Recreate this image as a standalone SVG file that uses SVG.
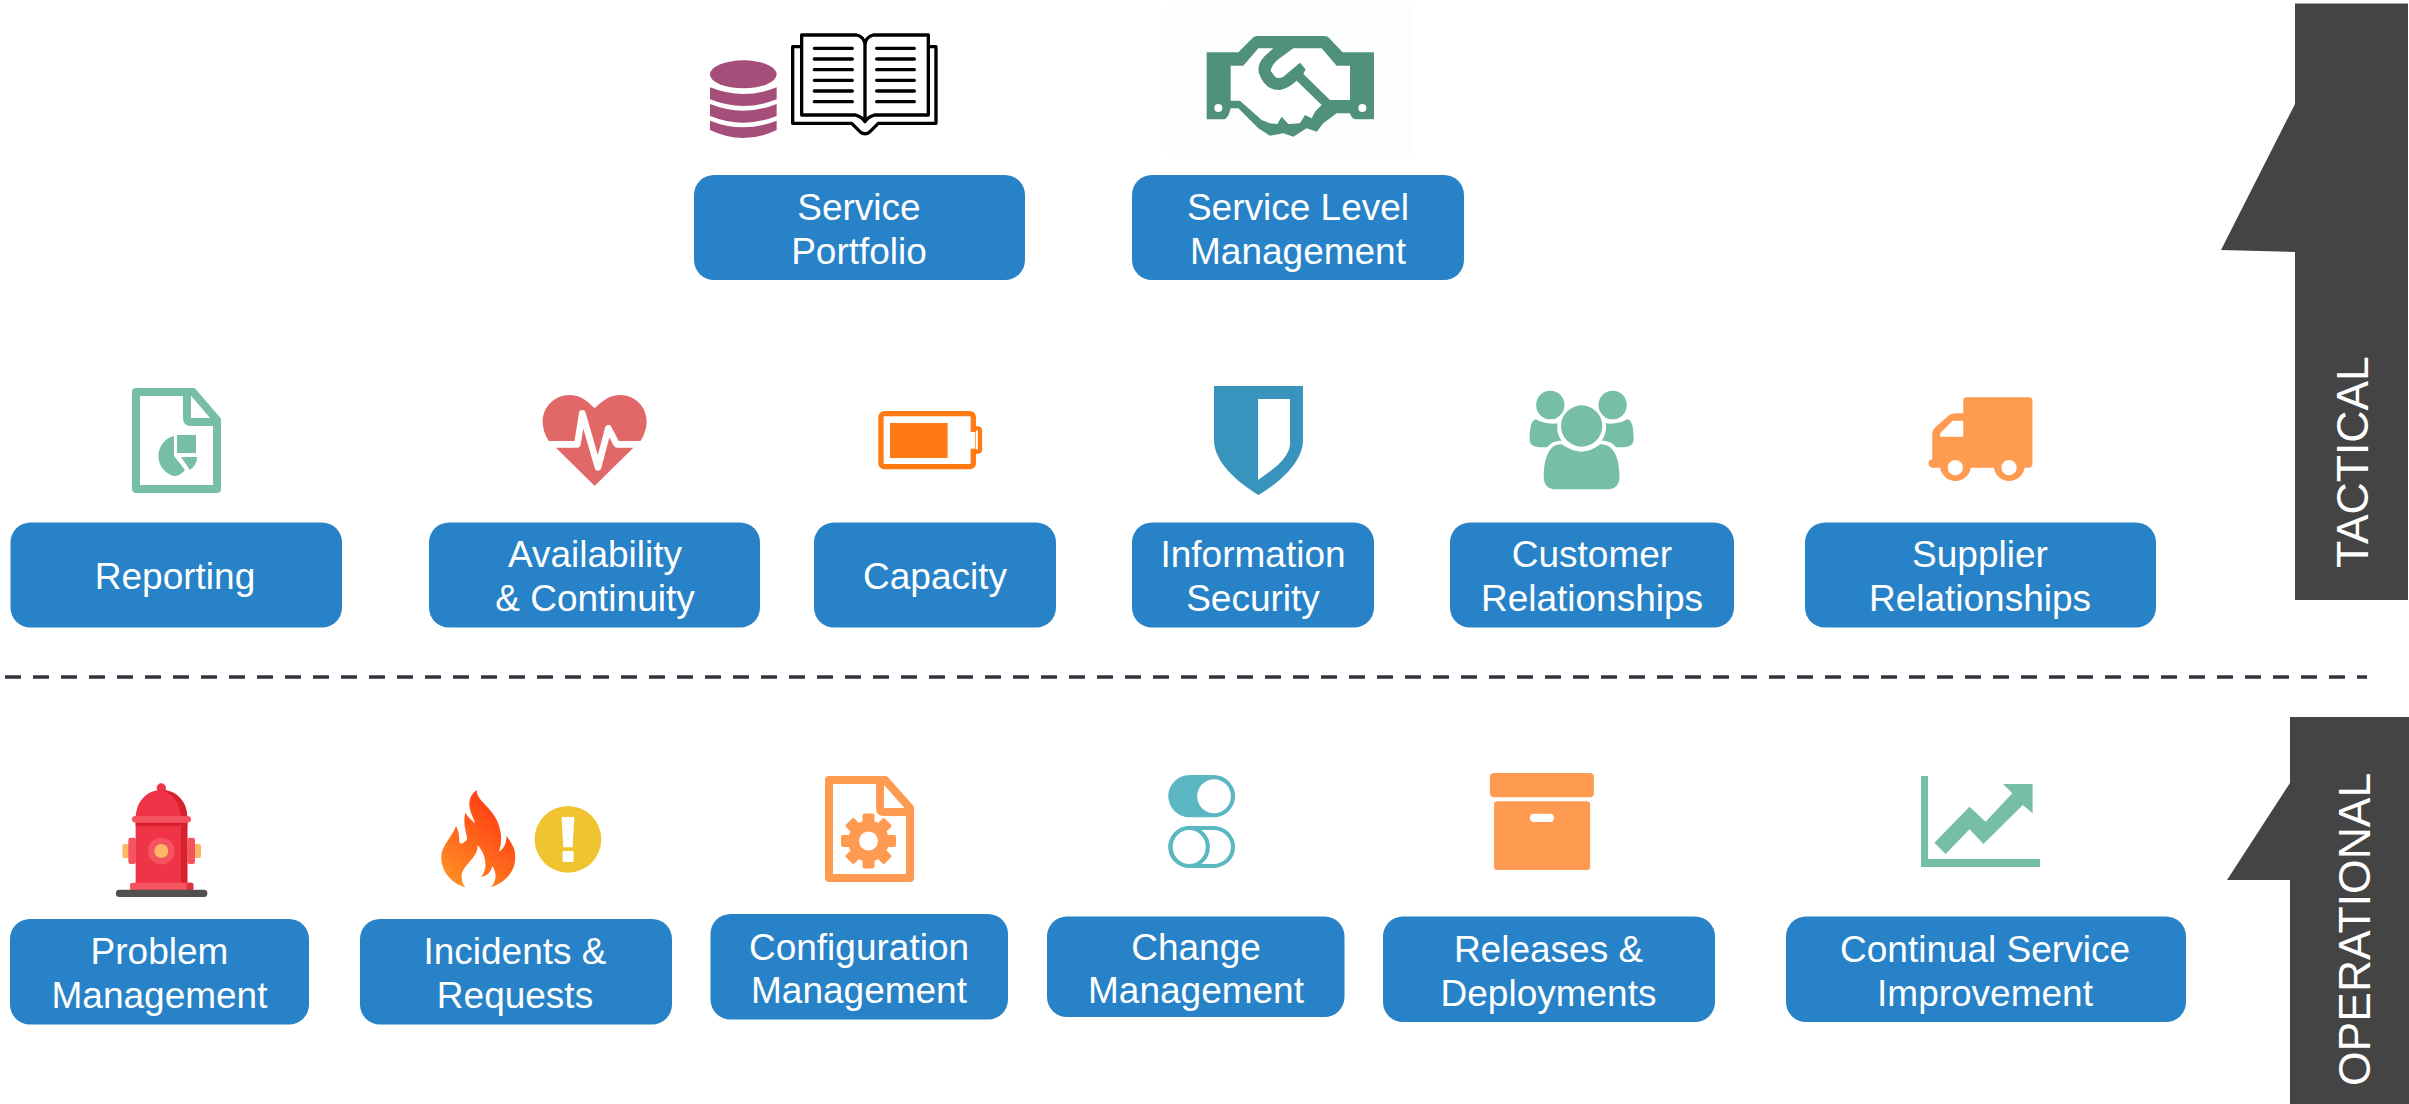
<svg xmlns="http://www.w3.org/2000/svg" width="2409" height="1104" viewBox="0 0 2409 1104">
<style>
text{font-family:"Liberation Sans",Arial,sans-serif;fill:#fff}
.b{fill:#2782c7}
.t{font-size:37px;text-anchor:middle}
.s{font-size:44.500px}
.tab{fill:#444}
.g{fill:#76bea8}
.o{fill:#ff9b50}
.w{fill:#fff}
.doc{fill:none;stroke-width:8;stroke-linejoin:round}
</style>
<defs>
<linearGradient id="fl" x1="0.15" y1="0.95" x2="0.7" y2="0.1"><stop offset="0" stop-color="#ff8f26"/><stop offset="1" stop-color="#ff3c12"/></linearGradient>
</defs>
<rect width="2409" height="1104" fill="#fff"/>

<g id="divider"><line x1="5" y1="677" x2="2367" y2="677" stroke="#333340" stroke-width="3.5" stroke-dasharray="16 12"/></g>

<g id="tab-tactical">
<path class="tab" d="M2295,3.500H2408V600H2295V252L2221,250L2295,104Z"/>
<text class="s" transform="translate(2368,568) rotate(-90)">TACTICAL</text>
</g>
<g id="tab-operational">
<path class="tab" d="M2290,717H2409V1104H2290V880H2227L2290,783Z"/>
<text class="s" transform="translate(2370,1086) rotate(-90)">OPERATIONAL</text>
</g>

<g id="service-portfolio">
<g transform="translate(700,20) scale(.3333)">
<g fill="#a54e7a">
<ellipse cx="130" cy="163" rx="100" ry="42"/>
<path d="M30,202Q130,242 230,202V238Q130,278 30,238Z"/>
<path d="M30,252Q130,292 230,252V288Q130,328 30,288Z"/>
<path d="M30,302Q130,342 230,302V330Q130,378 30,330Z"/>
</g>
<g fill="none" stroke="#000" stroke-width="10" stroke-linejoin="round">
<path d="M305,45H470Q490,50 495,70Q500,50 520,45H685V285H525Q505,290 495,305Q485,290 465,285H305Z"/>
<path d="M495,70V305"/>
<path d="M305,80H278V310H455L480,335Q495,348 510,335L535,310H708V80H685"/>
<path stroke-linecap="round" d="M343,85H457M530,85H643M343,117H457M530,117H643M343,149H457M530,149H643M343,181H457M530,181H643M343,213H457M530,213H643M343,245H457M530,245H643"/>
</g>
</g>
<rect class="b" x="694" y="175" width="331" height="105" rx="20"/>
<text class="t" x="859" y="220">Service</text>
<text class="t" x="859" y="264">Portfolio</text>
</g>

<g id="service-level-management">
<rect x="1167" y="5" width="245" height="152" fill="#fcfdfd"/>
<g transform="translate(1190,20) scale(.3333)">
<path fill="#4f9279" d="M50,97H145L190,52Q195,48 205,48H400Q410,48 415,52L458,97H552V298H500Q485,298 480,280H440L400,310L380,335L350,325L310,350L280,340L240,347L205,325L145,265H122Q115,298 100,298H50Z"/>
<path class="w" d="M122,137H160L205,85H250L222,110Q200,135 207,160Q225,212 270,210Q295,205 320,182L395,255L375,275L365,295L345,285L330,310L295,312L275,290L262,312L240,310L215,300L150,242H122Z"/>
<path class="w" d="M265,85H395L440,137H480V240H420L340,162L347,148L330,128L280,170Q265,178 255,170L242,152Q245,135 265,118L310,85Z"/>
<circle class="w" cx="85" cy="264" r="12"/><circle class="w" cx="517" cy="264" r="12"/>
</g>
<rect class="b" x="1132" y="175" width="332" height="105" rx="20"/>
<text class="t" x="1298" y="220">Service Level</text>
<text class="t" x="1298" y="264">Management</text>
</g>

<g id="reporting">
<path class="doc" stroke="#76bea8" d="M136,392H193L217,420V489H136ZM187,392V418Q187,422 191,422H217"/>
<path class="g" d="M174,436A20,20.500 0 0 0 174,476Q180,476 185,470L174,456ZM177,435H196V453H177ZM181,457H197Q197,465 190,470Z"/>
<rect class="b" x="10.500" y="522.500" width="331.500" height="105" rx="20"/>
<text class="t" x="175" y="589">Reporting</text>
</g>

<g id="availability-continuity">
<g transform="translate(520,380) scale(.3333)">
<path fill="#e26868" d="M224,85C195,55 175,45 148,45C105,45 68,80 68,125C68,145 75,165 85,181L222,316Q224,318 226,316L363,181C372,165 380,145 380,125C380,80 345,45 300,45C270,45 250,60 224,85Z"/>
<path fill="none" stroke="#fff" stroke-width="20" stroke-linejoin="round" stroke-linecap="round" d="M40,193H172L187,100L234,262L265,145L290,193H400"/>
</g>
<rect class="b" x="429" y="522.500" width="331" height="105" rx="20"/>
<text class="t" x="595" y="567">Availability</text>
<text class="t" x="595" y="611">&amp; Continuity</text>
</g>

<g id="capacity">
<g transform="translate(520,380) scale(.3333)">
<path fill="none" stroke="#ff7a12" stroke-width="13" stroke-linejoin="round" d="M1361,145H1374Q1380,145 1380,152V208Q1380,215 1374,215H1361"/>
<rect x="1083" y="101" width="277" height="159" rx="10" fill="#fff" stroke="#ff7a12" stroke-width="16"/>
<rect class="w" x="1350" y="156" width="16" height="50"/>
<rect x="1110" y="129" width="173" height="105" fill="#ff7a12"/>
</g>
<rect class="b" x="814" y="522.500" width="242" height="105" rx="20"/>
<text class="t" x="935" y="589">Capacity</text>
</g>

<g id="information-security">
<path fill="#3894bc" d="M1214,386H1303V440C1303,462 1280,482 1258.500,495C1237,482 1214,462 1214,440Z"/>
<path class="w" d="M1258,399H1290V445C1288,460 1272,470 1258,480Z"/>
<rect class="b" x="1132" y="522.500" width="242" height="105" rx="20"/>
<text class="t" x="1253" y="567">Information</text>
<text class="t" x="1253" y="611">Security</text>
</g>

<g id="customer-relationships">
<g class="g" transform="translate(1510,380) scale(.3444,.3333)">
<ellipse cx="208" cy="138" rx="60" ry="62"/>
<ellipse cx="117" cy="75" rx="41" ry="43"/><ellipse cx="298" cy="75" rx="41" ry="43"/>
<path d="M150,193Q180,215 208,215Q235,215 262,193C300,190 318,235 318,290Q318,328 280,328H135Q98,328 98,290C98,235 115,190 150,193Z"/>
<path d="M75,118Q105,135 138,130C135,150 140,170 150,182C130,182 118,188 108,202H85Q58,200 57,180C57,150 60,120 75,118Z"/>
<path d="M341,118Q311,135 278,130C281,150 276,170 266,182C286,182 298,188 308,202H331Q358,200 359,180C359,150 356,120 341,118Z"/>
</g>
<rect class="b" x="1450" y="522.500" width="284" height="105" rx="20"/>
<text class="t" x="1592" y="567">Customer</text>
<text class="t" x="1592" y="611">Relationships</text>
</g>

<g id="supplier-relationships">
<g transform="translate(1510,380) scale(.3444,.3333)">
<path class="o" d="M1316,100V62Q1316,52 1326,52H1507Q1517,52 1517,62V252Q1517,263 1505,263H1494A45,47 0 0 1 1405,263H1338A45,47 0 0 1 1249,263H1225Q1215,260 1215,250Q1215,240 1226,238V165Q1226,150 1235,142L1272,108Q1280,100 1292,100Z"/>
<path class="w" d="M1285,122H1316V170H1249V160Z"/>
<ellipse class="w" cx="1293" cy="263" rx="22" ry="23"/><ellipse class="w" cx="1449" cy="263" rx="22" ry="23"/>
</g>
<rect class="b" x="1805" y="522.500" width="351" height="105" rx="20"/>
<text class="t" x="1980" y="567">Supplier</text>
<text class="t" x="1980" y="611">Relationships</text>
</g>

<g id="problem-management">
<g transform="translate(100,770) scale(.3333)">
<rect x="67" y="222" width="236" height="42" rx="6" fill="#ffb765"/>
<circle cx="184" cy="54" r="14" fill="#ee3446"/>
<path fill="#ee3446" d="M107,145C107,95 140,60 184,60C230,60 262,95 262,145V345H107Z"/>
<path fill="#d8202f" d="M184,60C230,60 262,95 262,145V345H243V145C243,105 220,70 184,60Z"/>
<rect x="107" y="158" width="155" height="10" fill="#d8202f"/>
<rect x="96" y="138" width="177" height="20" rx="10" fill="#f5535f"/>
<rect x="85" y="203" width="23" height="79" rx="7" fill="#f5535f"/><rect x="262" y="203" width="23" height="79" rx="7" fill="#f5535f"/>
<circle cx="184" cy="243" r="40" fill="#f5535f"/><circle cx="184" cy="243" r="21" fill="#ffb765"/>
<rect x="90" y="338" width="190" height="24" rx="7" fill="#f5535f"/>
<rect x="260" y="338" width="20" height="24" rx="5" fill="#e0303f"/>
<rect x="48" y="359" width="274" height="22" rx="10" fill="#505050"/>
</g>
<rect class="b" x="10" y="919" width="299" height="105.500" rx="20"/>
<text class="t" x="159.500" y="964">Problem</text>
<text class="t" x="159.500" y="1008">Management</text>
</g>

<g id="incidents-requests">
<g transform="translate(100,770) scale(.3333)">
<path fill="url(#fl)" d="M1130,60C1130,100 1195,115 1203,195C1205,220 1200,235 1197,245C1215,235 1220,215 1219,197C1240,225 1246,240 1246,262C1246,310 1210,340 1172,352C1190,335 1192,310 1177,288C1175,305 1160,320 1143,320C1160,305 1165,260 1133,226C1135,265 1085,285 1085,320C1085,335 1090,345 1097,352C1055,342 1024,305 1024,262C1024,225 1055,205 1068,168C1075,180 1078,195 1078,215C1082,225 1090,220 1100,210C1105,195 1085,165 1097,127C1100,140 1115,150 1125,160C1125,150 1108,130 1108,100C1108,85 1118,68 1130,60Z"/>
<circle cx="1404" cy="208" r="100" fill="#f0c330"/>
<path class="w" d="M1388,141H1420Q1423,141 1423,145L1418,232H1390L1385,145Q1385,141 1388,141Z"/>
<rect class="w" x="1388" y="243" width="33" height="33" rx="4"/>
</g>
<rect class="b" x="360" y="919" width="312" height="105.500" rx="20"/>
<text class="t" x="515" y="964">Incidents &amp;</text>
<text class="t" x="515" y="1008">Requests</text>
</g>

<g id="configuration-management">
<path class="doc" stroke="#ff9b50" d="M829,780H885L910,808V878H829ZM880,780V808Q880,812 884,812H910"/>
<g class="o" transform="translate(868.500,841)">
<circle r="20.500"/>
<rect x="-6" y="-27.500" width="12" height="55" rx="2"/>
<rect x="-6" y="-27.500" width="12" height="55" rx="2" transform="rotate(45)"/>
<rect x="-6" y="-27.500" width="12" height="55" rx="2" transform="rotate(90)"/>
<rect x="-6" y="-27.500" width="12" height="55" rx="2" transform="rotate(135)"/>
<circle class="w" r="9.500"/>
</g>
<rect class="b" x="710.500" y="914" width="297.500" height="105.500" rx="20"/>
<text class="t" x="859" y="960">Configuration</text>
<text class="t" x="859" y="1003">Management</text>
</g>

<g id="change-management">
<g transform="translate(1150,770) scale(.3444,.3333)">
<rect x="53" y="15" width="194" height="127" rx="63" fill="#5bb8c3"/>
<ellipse class="w" cx="186" cy="79" rx="49" ry="51"/>
<rect x="59" y="174" width="182" height="114" rx="57" fill="#fff" stroke="#5bb8c3" stroke-width="12"/>
<ellipse cx="114" cy="231" rx="54" ry="57" fill="#fff" stroke="#5bb8c3" stroke-width="12"/>
</g>
<rect class="b" x="1047" y="916.500" width="297.500" height="100.500" rx="20"/>
<text class="t" x="1196" y="960">Change</text>
<text class="t" x="1196" y="1003">Management</text>
</g>

<g id="releases-deployments">
<g class="o" transform="translate(1150,770) scale(.3444,.3333)">
<rect x="987" y="9" width="302" height="73" rx="12"/>
<rect x="999" y="94" width="279" height="206" rx="10"/>
<rect class="w" x="1103" y="131" width="70" height="25" rx="12"/>
</g>
<rect class="b" x="1383" y="916.500" width="332" height="105.500" rx="20"/>
<text class="t" x="1548.500" y="962">Releases &amp;</text>
<text class="t" x="1548.500" y="1006">Deployments</text>
</g>

<g id="continual-service-improvement">
<path class="g" d="M1921,776H1928V859H2040V867H1921Z"/>
<path class="g" d="M1934.400,842.700L1969.500,806.700L1985.600,821.700L2012.300,793.300L2003,784H2032.600V813.300L2022.800,805L1983.500,844L1969.500,829.300L1945.600,854Z"/>
<rect class="b" x="1786" y="916.500" width="400" height="105.500" rx="20"/>
<text class="t" x="1985" y="962">Continual Service</text>
<text class="t" x="1985" y="1006">Improvement</text>
</g>
</svg>
